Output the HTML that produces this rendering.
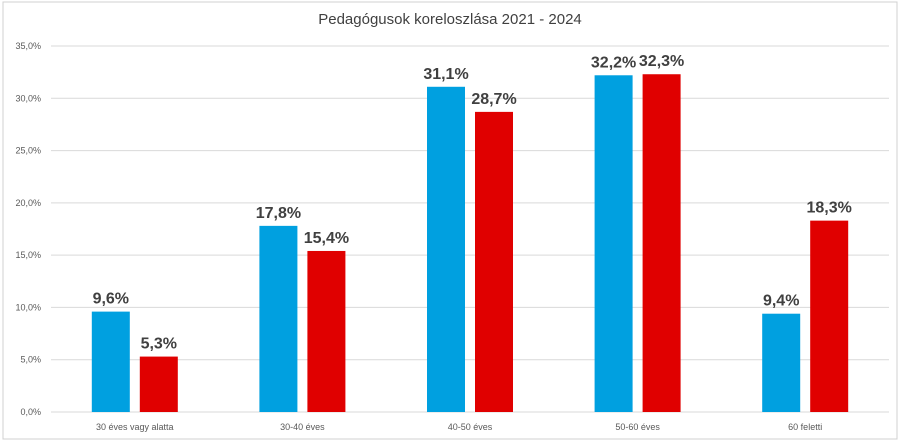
<!DOCTYPE html>
<html><head><meta charset="utf-8"><style>
body{margin:0;background:#fff}
svg{display:block;font-family:"Liberation Sans",sans-serif}
</style></head><body>
<svg id="c" width="900" height="442">
<rect x="3" y="2" width="894" height="437" fill="#fff" stroke="#d0d0d0"/>
<text x="450" y="24" text-anchor="middle" font-size="15" fill="#404040">Pedagógusok koreloszlása 2021 - 2024</text>
<g id="grid"></g><g id="bars"></g>
</svg>
<script>
const categories=["30 éves vagy alatta","30-40 éves","40-50 éves","50-60 éves","60 feletti"];
const series2021=[9.6,17.8,31.1,32.2,9.4];
const series2024=[5.3,15.4,28.7,32.3,18.3];
const ticks=[0,5,10,15,20,25,30,35];
const svg=document.getElementById('c'),G=document.getElementById('grid'),B=document.getElementById('bars');
const NS='http://www.w3.org/2000/svg';
const x0=51,x1=889,y0=412,yTop=46,maxV=35;
const y=v=>y0-(v/maxV)*(y0-yTop);
const bw=(x1-x0)/categories.length;
const fmt=v=>v.toFixed(1).replace('.',',')+'%';
function mk(t,a,p){const e=document.createElementNS(NS,t);for(const k in a)e.setAttribute(k,a[k]);p.appendChild(e);return e;}
ticks.forEach(t=>{
 const l=mk('line',{x1:x0,x2:x1,y1:y(t),y2:y(t),stroke:'#d9d9d9','stroke-width':1},G);
 
 
 const tx=mk('text',{x:41,y:y(t)+3,'text-anchor':'end','font-size':9,fill:'#595959'},G);
 tx.textContent=fmt(t);
 
 
});
categories.forEach((c,i)=>{
 const cx=x0+bw*(i+0.5);
 [[series2021[i],'#00a0e0',cx-43],[series2024[i],'#e00000',cx+5]].forEach(([v,col,bx],j)=>{
  const r=mk('rect',{x:bx,y:y(v),width:38,height:y0-y(v),fill:col},B);
  
  
  const t=mk('text',{x:bx+19,y:y(v)-8,'text-anchor':'middle','font-size':16,'font-weight':'bold',fill:'#404040'},B);
  t.textContent=fmt(v);
  
  
 });
 const lt=mk('text',{x:cx,y:430,'text-anchor':'middle','font-size':9,fill:'#595959'},B);
 lt.textContent=c;
 
 
});
</script>
</body></html>
